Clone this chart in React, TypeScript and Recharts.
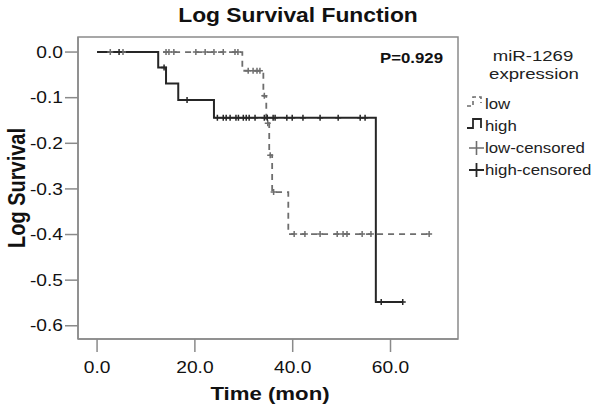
import React from "react";
import {
  ComposedChart,
  Line,
  Scatter,
  XAxis,
  YAxis,
  ReferenceArea,
} from "recharts";

// step curves (time in months, log survival)
const lowTimes = [0, 29.7, 34.0, 34.6, 35.2, 35.8, 39.1, 67.9];
const lowValues = [0, -0.041, -0.096, -0.156, -0.226, -0.307, -0.399, -0.399];
const highTimes = [0, 12.5, 14.1, 16.6, 23.9, 57.0, 62.5];
const highValues = [0, -0.034, -0.069, -0.105, -0.144, -0.548, -0.548];

// censored cases
const lowCensorTimes = [
  2.7, 5.3, 14.1, 14.7, 15.7, 20.2, 22.1, 23.9, 25.8, 28.2, 28.8, 30.9, 31.9,
  32.7, 33.3, 34.2, 34.9, 35.4, 36.1, 40.3, 42.5, 45.6, 49.1, 50.3, 51.1, 54.2,
  56.0, 67.9,
];
const lowCensorValues = [
  0, 0, 0, 0, 0, 0, 0, 0, 0, 0, 0, -0.041, -0.041, -0.041, -0.041, -0.096,
  -0.156, -0.226, -0.307, -0.399, -0.399, -0.399, -0.399, -0.399, -0.399,
  -0.399, -0.399, -0.399,
];
const highCensorTimes = [
  4.5, 13.7, 18.4, 24.6, 25.8, 26.4, 27.2, 28.4, 28.9, 29.9, 30.5, 31.1, 32.3,
  34.2, 34.8, 36.0, 36.4, 38.8, 39.9, 42.1, 45.6, 49.3, 53.8, 54.8, 58.1, 62.5,
];
const highCensorValues = [
  0, -0.034, -0.105, -0.144, -0.144, -0.144, -0.144, -0.144, -0.144, -0.144,
  -0.144, -0.144, -0.144, -0.144, -0.144, -0.144, -0.144, -0.144, -0.144,
  -0.144, -0.144, -0.144, -0.144, -0.144, -0.548, -0.548,
];

const xTicks = [0, 20, 40, 60];
const yTicks = [0, -0.1, -0.2, -0.3, -0.4, -0.5, -0.6];
const legendLabels = ["low", "high", "low-censored", "high-censored"];

const X_MIN = -3.9;
const X_MAX = 73.8;
const Y_MIN = -0.629;
const Y_MAX = 0.033;

const LOW_COLOR = "#6e6e6e";
const HIGH_COLOR = "#262626";
const AXIS_COLOR = "#8a8a8a";
const FONT = "Liberation Sans, Arial, sans-serif";

const zip = (ts: number[], vs: number[]) => ts.map((t, i) => ({ t, v: vs[i] }));

const lowData = zip(lowTimes, lowValues);
const highData = zip(highTimes, highValues);
const lowCensored = zip(lowCensorTimes, lowCensorValues);
const highCensored = zip(highCensorTimes, highCensorValues);

const plus = (color: string) => (props: any) => {
  const { cx, cy } = props;
  return (
    <path
      d={`M${cx - 3},${cy} H${cx + 3} M${cx},${cy - 3} V${cy + 3}`}
      stroke={color}
      strokeWidth={1.5}
      fill="none"
    />
  );
};

const XTick = (props: any) => {
  const { x, y, payload } = props;
  return (
    <g transform={`translate(${x},${y})`}>
      <text
        transform="scale(1.2,1)"
        textAnchor="middle"
        dy="0.71em"
        fontSize={16}
        fontFamily={FONT}
        fill="#111"
      >
        {payload.value.toFixed(1)}
      </text>
    </g>
  );
};

const YTick = (props: any) => {
  const { x, y, payload } = props;
  return (
    <g transform={`translate(${x},${y})`}>
      <text
        transform="scale(1.2,1)"
        textAnchor="end"
        dy="0.355em"
        fontSize={16}
        fontFamily={FONT}
        fill="#111"
      >
        {payload.value.toFixed(1)}
      </text>
    </g>
  );
};

function Overlay() {
  const rows = [109, 131, 153, 175];
  return (
    <svg
      width={600}
      height={415}
      style={{ position: "absolute", left: 0, top: 0, pointerEvents: "none" }}
    >
      <text
        transform="translate(298,22) scale(1.17,1)"
        textAnchor="middle"
        fontSize={19.5}
        fontWeight="bold"
        fontFamily={FONT}
        fill="#111"
      >
        Log Survival Function
      </text>
      <text
        transform="translate(380,63) scale(1.2,1)"
        fontSize={14}
        fontWeight="bold"
        fontFamily={FONT}
        fill="#111"
      >
        P=0.929
      </text>
      <text
        transform="translate(270,400) scale(1.2,1)"
        textAnchor="middle"
        fontSize={18.5}
        fontWeight="bold"
        fontFamily={FONT}
        fill="#111"
      >
        Time (mon)
      </text>
      <text
        transform="translate(25,188) rotate(-90) scale(1,1.2)"
        textAnchor="middle"
        fontSize={20}
        fontWeight="bold"
        fontFamily={FONT}
        fill="#111"
      >
        Log Survival
      </text>
      <text
        transform="translate(533,61) scale(1.2,1)"
        textAnchor="middle"
        fontSize={15.5}
        fontFamily={FONT}
        fill="#222"
      >
        miR-1269
      </text>
      <text
        transform="translate(534,79) scale(1.2,1)"
        textAnchor="middle"
        fontSize={15.5}
        fontFamily={FONT}
        fill="#222"
      >
        expression
      </text>
      {/* legend symbols */}
      <path
        d={`M467,${rows[0] - 3} H473 V${rows[0] - 12} H481 V${rows[0] - 6}`}
        stroke={LOW_COLOR}
        strokeWidth={1.6}
        strokeDasharray="4 3"
        fill="none"
      />
      <path
        d={`M467,${rows[1] - 3} H473 V${rows[1] - 12} H481 V${rows[1] - 3}`}
        stroke={HIGH_COLOR}
        strokeWidth={1.8}
        fill="none"
      />
      <path
        d={`M469,${rows[2] - 5} H484 M476.5,${rows[2] - 12} V${rows[2] + 2}`}
        stroke={LOW_COLOR}
        strokeWidth={1.6}
        fill="none"
      />
      <path
        d={`M469,${rows[3] - 5} H484 M476.5,${rows[3] - 12} V${rows[3] + 2}`}
        stroke={HIGH_COLOR}
        strokeWidth={1.8}
        fill="none"
      />
      {legendLabels.map((label, i) => (
        <text
          key={label}
          transform={`translate(485,${rows[i]}) scale(1.12,1)`}
          fontSize={15}
          fontFamily={FONT}
          fill="#222"
        >
          {label}
        </text>
      ))}
    </svg>
  );
}

export default function App() {
  return (
    <div
      style={{
        position: "absolute",
        left: 0,
        top: 0,
        width: 600,
        height: 415,
        background: "#fff",
      }}
    >
      <ComposedChart
        width={600}
        height={415}
        margin={{ top: 37, right: 142, bottom: 0, left: 0 }}
      >
        <XAxis
          type="number"
          dataKey="t"
          domain={[X_MIN, X_MAX]}
          ticks={xTicks}
          allowDataOverflow
          height={76}
          tickSize={13}
          tickMargin={10}
          tick={<XTick />}
          axisLine={{ stroke: AXIS_COLOR, strokeWidth: 1.5 }}
          tickLine={{ stroke: AXIS_COLOR, strokeWidth: 1.5 }}
        />
        <YAxis
          type="number"
          dataKey="v"
          domain={[Y_MIN, Y_MAX]}
          ticks={yTicks}
          allowDataOverflow
          width={78}
          tickSize={13}
          tickMargin={2}
          tick={<YTick />}
          axisLine={{ stroke: AXIS_COLOR, strokeWidth: 1.5 }}
          tickLine={{ stroke: AXIS_COLOR, strokeWidth: 1.5 }}
        />
        <ReferenceArea
          x1={X_MIN}
          x2={X_MAX}
          y1={Y_MIN}
          y2={Y_MAX}
          fill="none"
          stroke={AXIS_COLOR}
          strokeWidth={1.5}
        />
        <Line
          data={lowData}
          dataKey="v"
          type="stepAfter"
          stroke={LOW_COLOR}
          strokeWidth={1.8}
          strokeDasharray="6 5"
          dot={false}
          isAnimationActive={false}
        />
        <Line
          data={highData}
          dataKey="v"
          type="stepAfter"
          stroke={HIGH_COLOR}
          strokeWidth={2}
          dot={false}
          isAnimationActive={false}
        />
        <Scatter
          data={lowCensored}
          dataKey="v"
          shape={plus(LOW_COLOR)}
          isAnimationActive={false}
        />
        <Scatter
          data={highCensored}
          dataKey="v"
          shape={plus(HIGH_COLOR)}
          isAnimationActive={false}
        />
      </ComposedChart>
      <Overlay />
    </div>
  );
}
